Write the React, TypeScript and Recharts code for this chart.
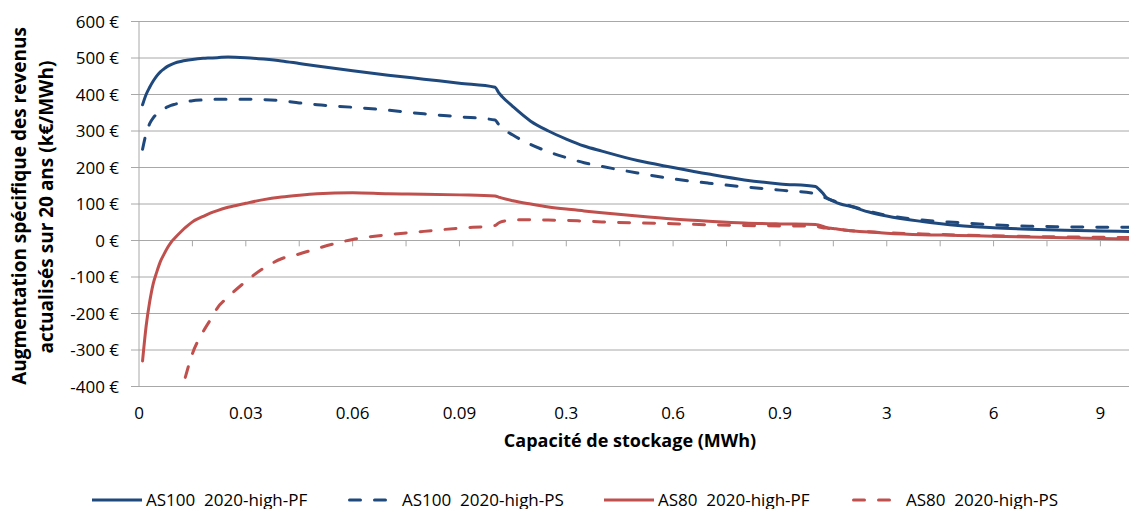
import { LineChart, Line, XAxis, YAxis, CartesianGrid, ReferenceLine, Label } from "recharts";

// storage capacity in MWh (the axis has three linear segments: 0-0.1, 0.1-1, 1-10)
const capacities = [
  0.001, 0.002, 0.003, 0.004, 0.005, 0.006, 0.007, 0.008, 0.009, 0.01,
  0.012, 0.013, 0.015, 0.018, 0.02, 0.022, 0.025, 0.03, 0.035, 0.04,
  0.045, 0.05, 0.06, 0.07, 0.08, 0.09, 0.1, 0.11, 0.12, 0.15,
  0.2, 0.25, 0.3, 0.35, 0.4, 0.5, 0.6, 0.7, 0.8, 0.9,
  1, 1.1, 1.2, 1.3, 1.5, 1.7, 2, 2.5, 3, 4,
  5, 6, 7, 8, 9, 10,
];

const as100Pf = [
  372, 400, 420, 437, 451, 462, 470, 477, 482, 486,
  491, 493, 496, 499, 500, 501, 503, 501, 497, 492,
  485, 478, 465, 453, 442, 431, 420, 405, 394, 367,
  327, 300, 278, 259, 245, 219, 200, 182, 166, 155,
  148, 140, 130, 118, 108, 100, 93, 78, 67, 52,
  41, 35, 31, 28, 26, 24,
];

const as100Ps = [
  250, 293, 320, 336, 347, 355, 361, 366, 370, 373,
  378, 380, 383, 385, 386, 387, 387, 387, 386, 383,
  377, 372, 365, 357, 347, 339, 330, 318, 308, 289,
  263, 243, 227, 213, 203, 185, 169, 157, 147, 138,
  128, 124, 120, 116, 109, 102, 94, 80, 69, 56,
  49, 43, 39, 37.5, 36.5, 36,
];

const as80Pf = [
  -330, -235, -168, -118, -86, -58, -38, -20, -5, 6,
  26, 35, 51, 66, 75, 82, 91, 102, 112, 119,
  124, 128, 131, 128, 127, 125, 122, 119, 116, 109,
  100, 92, 86, 81, 76, 67, 59, 53, 48, 45.5,
  44, 42, 39, 36, 33, 30, 27, 23, 20, 16,
  14, 11.5, 9.5, 7.5, 5.5, 4,
];

const as80Ps = [
  null, null, null, null, null, null, null, null, null, null,
  null, -375, -310, -250, -218, -185, -155, -112, -76, -50,
  -37, -22, 3, 16, 25, 34, 41, 48, 52, 56,
  57, 56, 55, 53, 51, 48, 46, 43, 41, 40,
  39, 37, 35, 34, 32, 30, 27, 24, 21, 18,
  15, 13, 11, 10, 9, 8,
];

const yTicks = [-400, -300, -200, -100, 0, 100, 200, 300, 400, 500, 600];
const xLabelCapacities = [0, 0.03, 0.06, 0.09, 0.3, 0.6, 0.9, 3, 6, 9];
const xMarkCapacities = [
  0.015, 0.03, 0.045, 0.06, 0.075, 0.09, 0.15, 0.3, 0.45,
  0.6, 0.75, 0.9, 1.5, 3, 4.5, 6, 7.5, 9,
];

const series = [
  { key: "as100Pf", name: "AS100  2020-high-PF", color: "#1F497D", dashed: false },
  { key: "as100Ps", name: "AS100  2020-high-PS", color: "#1F497D", dashed: true },
  { key: "as80Pf", name: "AS80  2020-high-PF", color: "#C0504D", dashed: false },
  { key: "as80Ps", name: "AS80  2020-high-PS", color: "#C0504D", dashed: true },
];

// position on the category-like axis: 100 steps per segment of 0.001, 90 of 0.01, 90 of 0.1
const toAxis = (c: number) =>
  c <= 0.1 ? c * 1000 : c <= 1 ? 100 + (c - 0.1) * 100 : 190 + (c - 1) * 10;

const data = capacities.map((c, i) => ({
  pos: toAxis(c),
  as100Pf: as100Pf[i],
  as100Ps: as100Ps[i],
  as80Pf: as80Pf[i],
  as80Ps: as80Ps[i],
}));

const xTicks = xLabelCapacities.map(toAxis);
const formatX = (v: number) => {
  const i = xTicks.findIndex((t) => Math.abs(t - v) < 1e-6);
  return i >= 0 ? String(xLabelCapacities[i]) : "";
};

const FONT = "'Open Sans', sans-serif";
const AXIS = "#a8a8a8";
const DASH = "11 14";

const YTitle = () => (
  <g fontFamily={FONT} fontWeight="bold" fontSize={19} fill="#000">
    <text transform="translate(26,206) rotate(-90)" textAnchor="middle">
      Augmentation spécifique des revenus
    </text>
    <text transform="translate(53,207) rotate(-90)" textAnchor="middle">
      actualisés sur 20 ans (k€/MWh)
    </text>
  </g>
);

const XTitle = () => (
  <text x={630} y={447} textAnchor="middle" fontFamily={FONT} fontWeight="bold" fontSize={18} fill="#000">
    Capacité de stockage (MWh)
  </text>
);

const legendLeft = [92, 348, 604, 852];

export default function App() {
  return (
    <div
      style={{
        position: "absolute",
        left: 0,
        top: 0,
        width: 1129,
        height: 509,
        overflow: "hidden",
        background: "#fff",
        fontFamily: FONT,
      }}
    >
      <LineChart width={1136} height={509} data={data} margin={{ top: 21.5, right: 0, bottom: 62.5, left: 0 }}>
        <CartesianGrid vertical={false} stroke={AXIS} strokeWidth={1} />
        <XAxis
          type="number"
          dataKey="pos"
          domain={[0, 280]}
          ticks={xTicks}
          interval={0}
          tickFormatter={formatX}
          axisLine={false}
          tickLine={false}
          tickMargin={14}
          height={60}
          tick={{ fontSize: 17, fill: "#000", fontFamily: FONT }}
        >
          <Label content={XTitle} />
        </XAxis>
        <YAxis
          domain={[-400, 600]}
          ticks={yTicks}
          interval={0}
          width={139}
          tickSize={8}
          tickMargin={12}
          tickFormatter={(v: number) => `${v}\u00a0€`}
          axisLine={{ stroke: AXIS }}
          tickLine={{ stroke: AXIS }}
          tick={{ fontSize: 17, fill: "#000", fontFamily: FONT }}
        >
          <Label content={YTitle} />
        </YAxis>
        <ReferenceLine y={0} stroke={AXIS} strokeWidth={1} />
        {xMarkCapacities.map((c) => (
          <ReferenceLine
            key={c}
            segment={[{ x: toAxis(c), y: 0 }, { x: toAxis(c), y: -16 }]}
            stroke={AXIS}
            strokeWidth={1}
          />
        ))}
        {series.map((s) => (
          <Line
            key={s.key}
            type="monotone"
            dataKey={s.key}
            name={s.name}
            stroke={s.color}
            strokeWidth={3}
            strokeDasharray={s.dashed ? DASH : undefined}
            strokeLinecap="round"
            dot={false}
            activeDot={false}
            isAnimationActive={false}
          />
        ))}
      </LineChart>
      {series.map((s, i) => (
        <div
          key={s.key}
          style={{
            position: "absolute",
            left: legendLeft[i],
            top: 490,
            height: 20,
            display: "flex",
            alignItems: "center",
          }}
        >
          <svg width={50} height={4} style={{ display: "block" }}>
            <line
              x1={s.dashed ? 1.5 : 0}
              y1={2}
              x2={50}
              y2={2}
              stroke={s.color}
              strokeWidth={3}
              strokeDasharray={s.dashed ? "11 14" : undefined}
              strokeLinecap={s.dashed ? "round" : "butt"}
            />
          </svg>
          <span style={{ marginLeft: 4, whiteSpace: "pre", fontSize: 17, lineHeight: "20px", color: "#000" }}>
            {s.name}
          </span>
        </div>
      ))}
    </div>
  );
}
